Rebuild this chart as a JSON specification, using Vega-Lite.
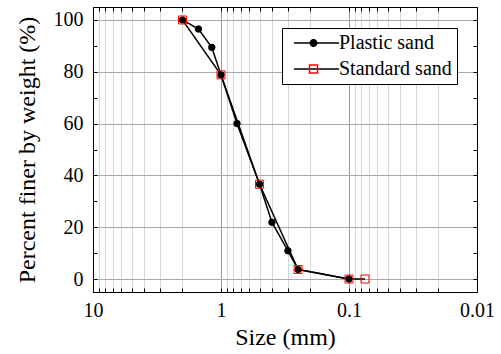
{
  "$schema": "https://vega.github.io/schema/vega-lite/v6.json",
  "width": 384,
  "height": 285,
  "autosize": {"type": "none"},
  "padding": {"left": 93, "top": 7, "right": 24, "bottom": 62},
  "background": "white",
  "config": {
    "view": {"stroke": "black", "strokeWidth": 1},
    "font": "Liberation Serif",
    "axis": {
      "labelFont": "Liberation Serif",
      "labelFontSize": 20,
      "labelColor": "black",
      "titleFont": "Liberation Serif",
      "titleFontSize": 24,
      "titleFontWeight": "normal",
      "titleColor": "black",
      "domainColor": "black",
      "tickColor": "black",
      "tickSize": -4,
      "gridWidth": 1
    },
    "legend": {
      "labelFont": "Liberation Serif",
      "labelFontSize": 20,
      "labelColor": "black"
    }
  },
  "data": {
    "values": [
      {"series": "Plastic sand", "size": 2, "percent": 100},
      {"series": "Plastic sand", "size": 1.5, "percent": 96.5},
      {"series": "Plastic sand", "size": 1.18, "percent": 89.4},
      {"series": "Plastic sand", "size": 1, "percent": 78.8},
      {"series": "Plastic sand", "size": 0.75, "percent": 60},
      {"series": "Plastic sand", "size": 0.5, "percent": 36.6},
      {"series": "Plastic sand", "size": 0.4, "percent": 21.9},
      {"series": "Plastic sand", "size": 0.3, "percent": 10.9},
      {"series": "Plastic sand", "size": 0.25, "percent": 3.7},
      {"series": "Plastic sand", "size": 0.1, "percent": 0},
      {"series": "Standard sand", "size": 2, "percent": 100},
      {"series": "Standard sand", "size": 1, "percent": 78.8},
      {"series": "Standard sand", "size": 0.5, "percent": 36.6},
      {"series": "Standard sand", "size": 0.25, "percent": 3.7},
      {"series": "Standard sand", "size": 0.1, "percent": 0},
      {"series": "Standard sand", "size": 0.075, "percent": 0}
    ]
  },
  "layer": [
    {
      "mark": {"type": "line", "color": "black", "strokeWidth": 1.5},
      "encoding": {
        "x": {
          "field": "size", "type": "quantitative",
          "scale": {"type": "log", "domain": [0.01, 10], "reverse": true},
          "axis": {
            "orient": "bottom",
            "title": "Size (mm)",
            "values": [10, 9, 8, 7, 6, 5, 4, 3, 2, 1, 0.9, 0.8, 0.7, 0.6, 0.5, 0.4, 0.3, 0.2, 0.1, 0.09, 0.08, 0.07, 0.06, 0.05, 0.04, 0.03, 0.02, 0.01],
            "format": "~g",
            "labelExpr": "indexof([10, 1, 0.1, 0.01], datum.value) >= 0 ? datum.label : ''",
            "labelPadding": 12,
            "labelFlush": false,
            "labelOverlap": false,
            "grid": true,
            "gridColor": {"condition": {"test": "indexof([10, 1, 0.1, 0.01], datum.value) >= 0", "value": "#9a9a9a"}, "value": "#d6d6d6"},
            "titlePadding": 5
          }
        },
        "y": {
          "field": "percent", "type": "quantitative",
          "scale": {"domain": [-5, 105], "nice": false, "zero": false},
          "axis": {
            "orient": "left",
            "title": "Percent finer by weight (%)",
            "values": [0, 10, 20, 30, 40, 50, 60, 70, 80, 90, 100],
            "labelExpr": "datum.value % 20 == 0 ? datum.label : ''",
            "labelPadding": 14,
            "labelOverlap": false,
            "grid": true,
            "gridColor": {"condition": {"test": "datum.value % 20 == 0", "value": "#aaaaaa"}, "value": "transparent"},
            "titlePadding": 14
          }
        },
        "strokeDash": {
          "field": "series", "type": "nominal",
          "scale": {"range": [[1, 0], [1, 0]]},
          "legend": {
            "title": null,
            "orient": "none",
            "legendX": 189,
            "legendY": 21,
            "symbolType": "M-0.6,0H8.4",
            "symbolSize": 100,
            "symbolStrokeColor": "black",
            "symbolFillColor": "transparent",
            "symbolStrokeWidth": 1.5,
            "strokeColor": "black",
            "fillColor": "white",
            "padding": 5,
            "rowPadding": 6,
            "labelOffset": 32,
            "zindex": 1
          }
        }
      }
    },
    {
      "mark": {"type": "point", "opacity": 1, "strokeWidth": 1},
      "encoding": {
        "x": {
          "field": "size", "type": "quantitative",
          "axis": {
            "orient": "top",
            "title": null,
            "values": [10, 9, 8, 7, 6, 5, 4, 3, 2, 1, 0.9, 0.8, 0.7, 0.6, 0.5, 0.4, 0.3, 0.2, 0.1, 0.09, 0.08, 0.07, 0.06, 0.05, 0.04, 0.03, 0.02, 0.01],
            "labels": false,
            "grid": false
          }
        },
        "y": {
          "field": "percent", "type": "quantitative",
          "axis": {
            "orient": "right",
            "title": null,
            "values": [0, 10, 20, 30, 40, 50, 60, 70, 80, 90, 100],
            "labels": false,
            "grid": false
          }
        },
        "shape": {
          "field": "series", "type": "nominal",
          "scale": {"domain": ["Plastic sand", "Standard sand"], "range": ["circle", "square"]},
          "legend": {
            "title": null,
            "orient": "none",
            "legendX": 205.5,
            "legendY": 21,
            "padding": 5,
            "rowPadding": 6,
            "labelOffset": 1,
            "labelExpr": "' '",
            "labelColor": "transparent",
            "zindex": 2
          }
        },
        "fill": {
          "field": "series", "type": "nominal",
          "scale": {"domain": ["Plastic sand", "Standard sand"], "range": ["black", "transparent"]}
        },
        "stroke": {
          "field": "series", "type": "nominal",
          "scale": {"domain": ["Plastic sand", "Standard sand"], "range": ["black", "red"]}
        },
        "size": {
          "field": "series", "type": "nominal",
          "scale": {"domain": ["Plastic sand", "Standard sand"], "range": [42, 64]}
        }
      }
    }
  ],
  "resolve": {"axis": {"x": "independent", "y": "independent"}}
}
